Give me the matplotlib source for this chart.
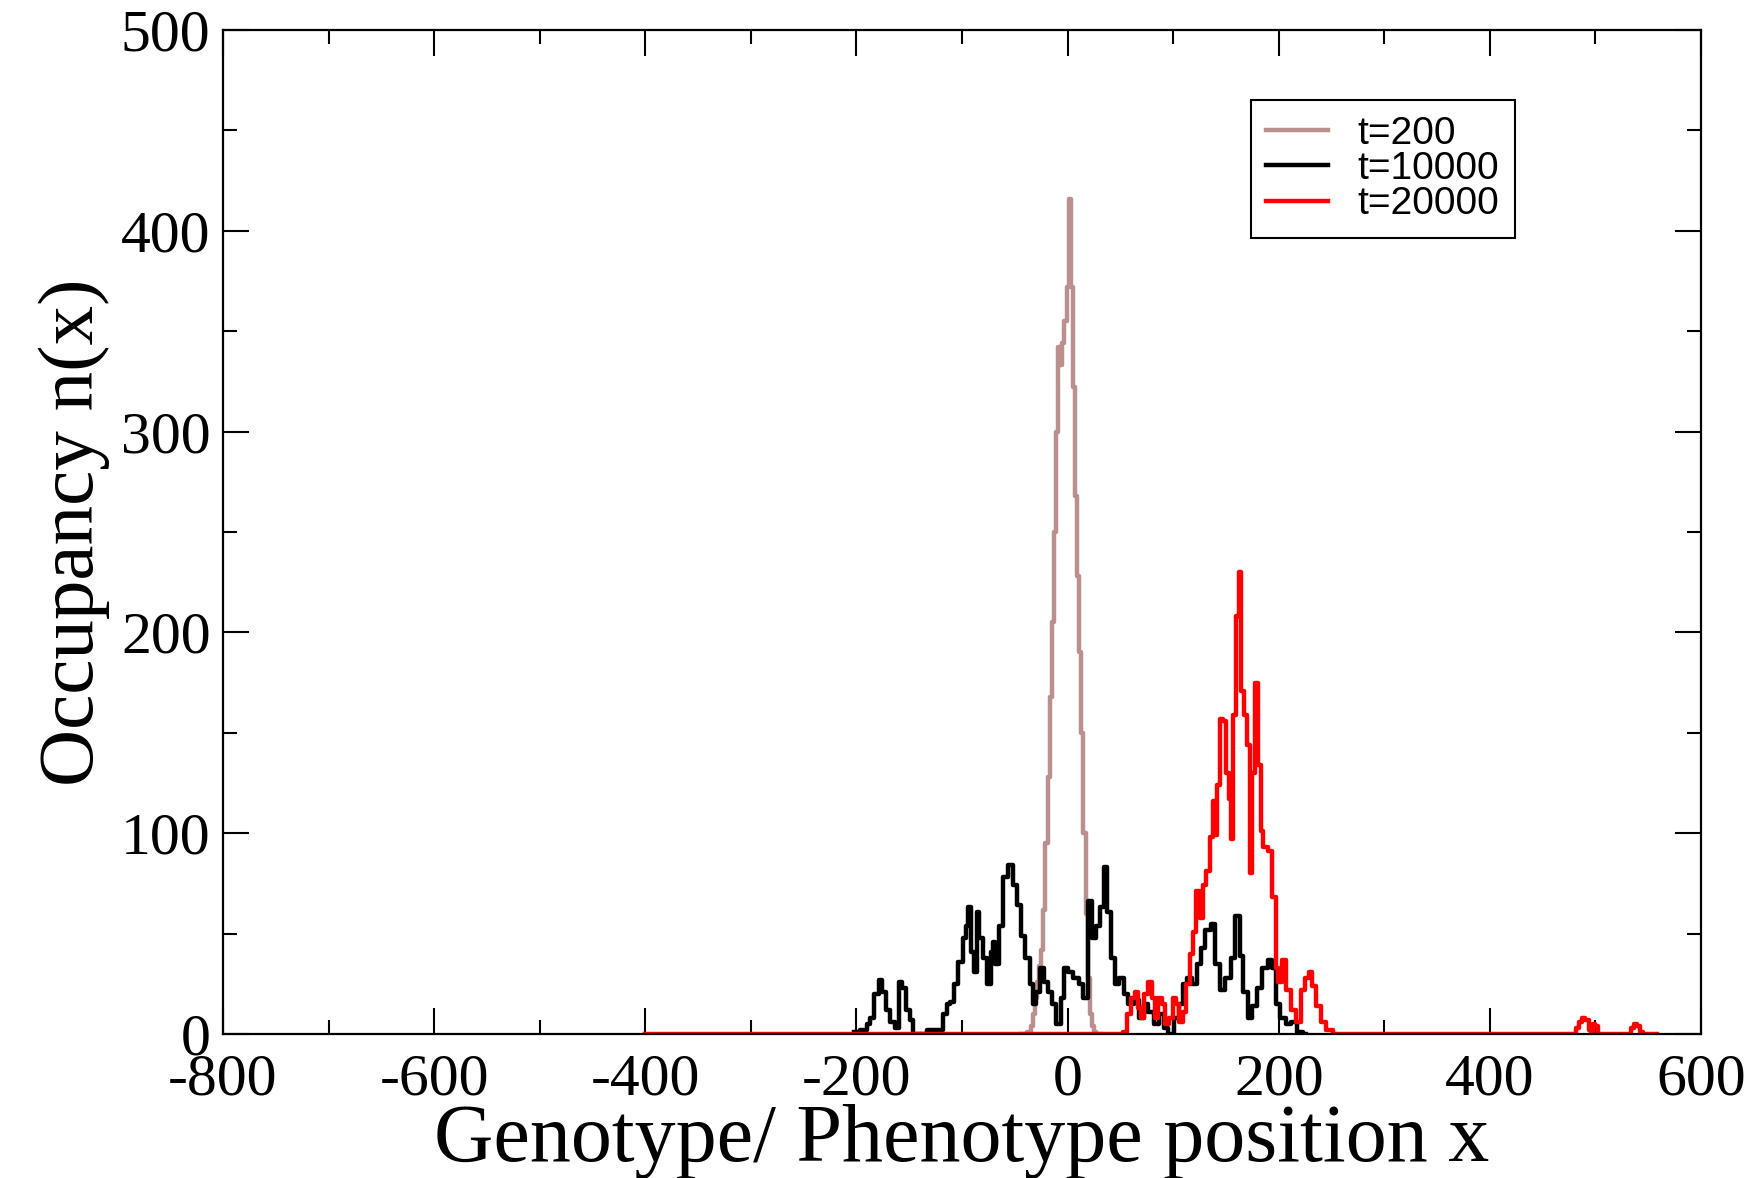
import sys
import matplotlib
matplotlib.use("Agg")
import matplotlib.pyplot as plt
from matplotlib.ticker import MultipleLocator


# occupancy n(x) at t=200
pink_x = [-44, -40, -36, -34, -32, -30, -28, -26, -24, -22, -20, -18, -16, -14, -12,
          -10, -8, -6, -4, -2, 0, 2, 4, 6, 8, 10, 12, 14, 16, 18, 20, 22, 24, 26,
          28, 32]
pink_y = [0, 0, 1, 4, 10, 18, 26, 34, 42, 62, 95, 128, 168, 205, 250,
          300, 342, 333, 344, 355, 372, 416, 372, 322, 268, 228, 190, 150, 100, 60,
          28, 10, 4, 1, 0, 0]

# occupancy n(x) at t=10000
black_x = [-202, -191, -189, -185, -181, -177, -174, -170, -166, -161, -158, -155,
           -151, -147, -146, -120, -116, -113, -110, -106, -101, -98, -95, -93,
           -90, -87, -85, -82, -78, -74, -72, -70, -67, -63, -59, -54, -49, -46,
           -43, -38, -34, -31, -28, -24, -21, -17, -13, -8, -5, -2, 3, 8, 13, 17,
           21, 25, 29, 33, 36, 39, 43, 47, 51, 55, 60, 65, 70, 74, 79, 84, 89, 93,
           98, 103, 108, 111, 116, 120, 125, 128, 133, 138, 142, 147, 152, 157,
           161, 165, 168, 173, 177, 182, 187, 192, 196, 199, 204, 209, 214, 220,
           226]
black_y = [1, 2, 5, 8, 20, 27, 21, 12, 6, 3, 26, 23,
           12, 7, 0, 2, 10, 15, 16, 25, 36, 48, 54, 63,
           41, 31, 61, 48, 38, 25, 41, 46, 35, 54, 78, 84, 74, 64,
           49, 38, 25, 15, 21, 33, 26, 21, 15, 5, 18, 33, 31, 28, 25, 18,
           66, 48, 54, 63, 83, 61, 38, 25, 28, 20, 15, 17, 8, 15, 11, 5, 10, 3,
           0, 8, 15, 25, 28, 25, 35, 43, 52, 55, 35, 22, 28, 38,
           59, 39, 21, 8, 14, 23, 33, 37, 33, 15, 8, 5, 6, 1,
           0]

# occupancy n(x) at t=20000
red_x = [-400, 50, 55, 58, 62, 65, 68, 71, 74, 78, 81, 84, 88, 91, 94, 98, 101,
         104, 108, 111, 114, 117, 120, 123, 127, 130, 133, 136, 139, 141, 143, 146,
         149, 151, 154, 155, 159, 161, 163, 166, 169, 171, 174, 176, 179, 182, 184,
         187, 192, 196, 198, 201, 205, 209, 214, 219, 223, 227, 230, 233, 238, 242,
         247, 255, 480, 483, 486, 489, 492, 495, 497, 499, 501, 503, 532, 535, 538,
         541, 544, 547, 558]
red_y = [0, 0, 1, 10, 18, 21, 13, 8, 20, 26, 18, 8, 18, 15, 5, 8, 18,
         15, 6, 11, 25, 40, 51, 71, 58, 74, 81, 98, 116, 99, 124, 157,
         156, 130, 117, 97, 159, 208, 230, 171, 159, 144, 80, 130, 175, 134, 101,
         93, 91, 68, 33, 26, 37, 22, 12, 6, 22, 28, 31, 24, 14, 6,
         2, 0, 0, 3, 6, 8, 7, 2, 0, 5, 4, 0, 0, 3, 5,
         4, 1, 0, 0]

labels = ["t=200", "t=10000", "t=20000"]
colors = ["#bc8f8f", "black", "red"]

x_ticks = [-800, -600, -400, -200, 0, 200, 400, 600]
y_ticks = [0, 100, 200, 300, 400, 500]

SERIF = "Liberation Serif"
SANS = "Liberation Sans"


def draw_graph(graph_path):
    plt.rcParams["axes.unicode_minus"] = False
    W, H = 1759, 1178
    fig = plt.figure(figsize=(W / 100, H / 100), dpi=100)
    ax = fig.add_axes([223 / W, 1 - 1034 / H, 1478 / W, 1004 / H])

    series = [(pink_x, pink_y), (black_x, black_y), (red_x, red_y)]
    for (xs, ys), lab, col in zip(series, labels, colors):
        ax.plot(xs, ys, drawstyle="steps-mid", color=col, linewidth=3.2,
                label=lab)

    ax.set_xlim(-800, 600)
    ax.set_ylim(0, 500)
    ax.set_xticks(x_ticks)
    ax.set_yticks(y_ticks)
    ax.xaxis.set_minor_locator(MultipleLocator(100))
    ax.yaxis.set_minor_locator(MultipleLocator(50))
    ax.tick_params(which="both", direction="in", top=True, right=True,
                   width=1.5)
    ax.tick_params(which="major", length=19)
    ax.tick_params(which="minor", length=10)
    ax.tick_params(axis="x", which="major", pad=14)
    ax.tick_params(axis="y", which="major", pad=9)
    for lbl in ax.get_xticklabels() + ax.get_yticklabels():
        lbl.set_fontfamily(SERIF)
        lbl.set_fontsize(43)
    for sp in ax.spines.values():
        sp.set_linewidth(1.6)

    ax.set_xlabel("Genotype/ Phenotype position x", fontfamily=SERIF,
                  fontsize=59, labelpad=-3)
    ax.set_ylabel("Occupancy n(x)", fontfamily=SERIF, fontsize=57,
                  labelpad=8)

    leg = ax.legend(loc="upper right", bbox_to_anchor=(0.874, 0.930),
                    borderaxespad=0, prop={"family": SANS, "size": 28},
                    handlelength=1.6, handletextpad=0.75, labelspacing=-0.02,
                    borderpad=0.4, fancybox=False, framealpha=1)
    leg.get_frame().set_edgecolor("black")
    leg.get_frame().set_linewidth(1.5)

    fig.savefig(graph_path, dpi=100)


def main():
    draw_graph("out.png")
    return 0


if __name__ == "__main__":
    sys.exit(main())
